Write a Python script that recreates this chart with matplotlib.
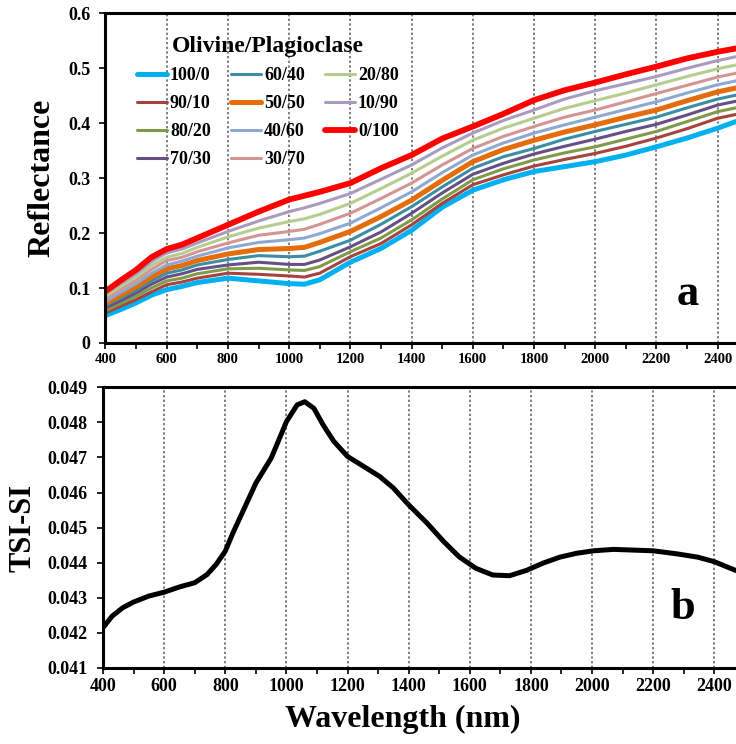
import matplotlib
matplotlib.use("Agg")
import matplotlib.pyplot as plt
from matplotlib.ticker import MultipleLocator, FuncFormatter

plt.rcParams['font.family'] = ['Liberation Serif', 'DejaVu Serif']
plt.rcParams['font.weight'] = 'bold'

# --- panel a: mixture spectra (olivine/plagioclase) ---
wl = [400, 450, 500, 550, 600, 650, 700, 800, 900, 1000, 1050, 1100, 1200, 1300,
      1400, 1500, 1600, 1700, 1800, 1900, 2000, 2100, 2200, 2300, 2400, 2460]

mix_labels = ['100/0', '90/10', '80/20', '70/30', '60/40', '50/50',
              '40/60', '30/70', '20/80', '10/90', '0/100']

r_100_0 = [0.050, 0.061, 0.073, 0.087, 0.097, 0.103, 0.110, 0.118, 0.113, 0.108, 0.107, 0.115, 0.147,
           0.172, 0.205, 0.247, 0.278, 0.297, 0.312, 0.321, 0.330, 0.342, 0.357, 0.373, 0.391, 0.403]
r_90_10 = [0.055, 0.067, 0.079, 0.093, 0.106, 0.111, 0.118, 0.127, 0.125, 0.122, 0.120, 0.127, 0.157,
           0.181, 0.215, 0.254, 0.288, 0.306, 0.322, 0.334, 0.345, 0.358, 0.373, 0.390, 0.409, 0.416]
r_80_20 = [0.059, 0.072, 0.085, 0.100, 0.113, 0.118, 0.126, 0.135, 0.136, 0.133, 0.132, 0.139, 0.166,
           0.191, 0.224, 0.262, 0.297, 0.317, 0.333, 0.346, 0.357, 0.371, 0.385, 0.403, 0.421, 0.428]
r_70_30 = [0.064, 0.077, 0.091, 0.107, 0.120, 0.126, 0.134, 0.142, 0.147, 0.143, 0.143, 0.151, 0.175,
           0.202, 0.236, 0.273, 0.307, 0.327, 0.344, 0.358, 0.371, 0.385, 0.398, 0.415, 0.433, 0.440]
r_60_40 = [0.068, 0.082, 0.096, 0.113, 0.127, 0.133, 0.142, 0.152, 0.159, 0.157, 0.158, 0.167, 0.187,
           0.216, 0.248, 0.284, 0.318, 0.339, 0.354, 0.371, 0.385, 0.398, 0.411, 0.428, 0.444, 0.451]
r_50_50 = [0.072, 0.087, 0.102, 0.120, 0.135, 0.141, 0.150, 0.162, 0.170, 0.172, 0.174, 0.183, 0.203,
           0.230, 0.260, 0.296, 0.330, 0.352, 0.369, 0.384, 0.397, 0.411, 0.424, 0.441, 0.457, 0.464]
r_40_60 = [0.076, 0.092, 0.108, 0.127, 0.142, 0.149, 0.158, 0.173, 0.183, 0.188, 0.191, 0.199, 0.218,
           0.246, 0.275, 0.310, 0.342, 0.364, 0.382, 0.397, 0.411, 0.425, 0.439, 0.455, 0.470, 0.477]
r_30_70 = [0.081, 0.098, 0.114, 0.134, 0.150, 0.156, 0.166, 0.182, 0.196, 0.203, 0.207, 0.216, 0.236,
           0.263, 0.291, 0.324, 0.354, 0.376, 0.394, 0.411, 0.424, 0.439, 0.454, 0.469, 0.484, 0.491]
r_20_80 = [0.085, 0.103, 0.120, 0.141, 0.156, 0.163, 0.174, 0.193, 0.209, 0.221, 0.226, 0.234, 0.254,
           0.281, 0.309, 0.340, 0.369, 0.391, 0.409, 0.427, 0.441, 0.455, 0.470, 0.485, 0.499, 0.506]
r_10_90 = [0.090, 0.108, 0.126, 0.148, 0.164, 0.171, 0.182, 0.203, 0.222, 0.239, 0.246, 0.254, 0.272,
           0.298, 0.324, 0.355, 0.382, 0.405, 0.424, 0.444, 0.459, 0.472, 0.485, 0.500, 0.514, 0.521]
r_0_100 = [0.094, 0.114, 0.133, 0.156, 0.171, 0.179, 0.191, 0.215, 0.239, 0.261, 0.268, 0.275, 0.291,
           0.318, 0.342, 0.372, 0.394, 0.417, 0.442, 0.460, 0.474, 0.489, 0.503, 0.518, 0.530, 0.536]

mix_colors = ['#00B0F0', '#A5433F', '#7F9A48', '#664F84', '#3A8EA4', '#E46C0A',
              '#8EA9D1', '#D29592', '#B5CD8E', '#A99BBD', '#FF0000']
mix_widths = [3.6, 2.2, 2.2, 2.2, 2.2, 3.6, 2.2, 2.2, 2.2, 2.2, 4.2]

# --- panel b: TSI-SI ---
wl_b = [400, 430, 465, 500, 550, 600, 650, 700, 740, 770, 800, 825, 860, 900, 950, 980, 1000,
        1035, 1060, 1090, 1120, 1155, 1200, 1250, 1305, 1350, 1400, 1460, 1515, 1565, 1620,
        1675, 1730, 1785, 1840, 1895, 1950, 2005, 2070, 2135, 2200, 2280, 2345, 2400, 2470]
tsi = [0.04215, 0.04248, 0.04272, 0.04288, 0.04305, 0.04316, 0.04331, 0.04343, 0.04366,
       0.04395, 0.04433, 0.04485, 0.04551, 0.04627, 0.04698, 0.04760, 0.04802, 0.04850,
       0.04859, 0.04840, 0.04793, 0.04746, 0.04703, 0.04676, 0.04646, 0.04613, 0.04565,
       0.04513, 0.04460, 0.04417, 0.04384, 0.04365, 0.04363, 0.04378, 0.04399, 0.04416,
       0.04427, 0.04434, 0.04438, 0.04436, 0.04434, 0.04425, 0.04416, 0.04403, 0.04378]


def style_axis(ax, xmax):
    ax.set_xlim(400, xmax)
    ax.xaxis.set_major_locator(MultipleLocator(200))
    ax.xaxis.set_minor_locator(MultipleLocator(100))
    ax.spines['right'].set_visible(False)
    for s in ['left', 'bottom', 'top']:
        ax.spines[s].set_linewidth(2.2)
    ax.tick_params(axis='both', which='major', direction='out', length=4, width=1.2)
    ax.tick_params(axis='x', which='minor', direction='out', length=4, width=1.2)
    ax.tick_params(axis='y', pad=7)
    for g in range(600, 2500, 200):
        ax.axvline(g, color='#7f7f7f', lw=1.4, ls=(0, (1.2, 1.2)), zorder=0)


fig = plt.figure(figsize=(7.36, 7.44), dpi=100)

ax1 = fig.add_axes([0.1433, 0.539, 0.8567, 0.4431])
series = [r_100_0, r_90_10, r_80_20, r_70_30, r_60_40, r_50_50,
          r_40_60, r_30_70, r_20_80, r_10_90, r_0_100]
for lab, vals, c, w in zip(mix_labels, series, mix_colors, mix_widths):
    ax1.plot(wl, vals, color=c, lw=w, label=lab, solid_capstyle='round')
style_axis(ax1, 2460)
ax1.set_ylim(0, 0.6)
ax1.yaxis.set_major_locator(MultipleLocator(0.1))
ax1.yaxis.set_major_formatter(FuncFormatter(lambda v, p: '0' if abs(v) < 1e-9 else f'{v:.1f}'))
ax1.tick_params(axis='x', labelsize=10.5)
ax1.tick_params(axis='y', labelsize=13)
ax1.set_ylabel('Reflectance', fontsize=23, fontweight='bold')
ax1.yaxis.set_label_coords(-0.077, 0.5)
ax1.text(0.924, 0.148, 'a', transform=ax1.transAxes, fontsize=32, fontweight='bold',
         ha='center', va='center')
leg = ax1.legend(loc='upper left', bbox_to_anchor=(0.035, 0.96), ncol=3, frameon=False,
                 title='Olivine/Plagioclase', fontsize=13, handlelength=1.7,
                 handletextpad=0.15, columnspacing=1.1, labelspacing=0.6, borderpad=0)
leg.get_title().set_fontsize(17)
leg.get_title().set_fontweight('bold')

ax2 = fig.add_axes([0.140, 0.1022, 0.860, 0.3772])
ax2.plot(wl_b, tsi, color='black', lw=3.6, solid_capstyle='round')
style_axis(ax2, 2471)
ax2.set_ylim(0.041, 0.049)
ax2.yaxis.set_major_locator(MultipleLocator(0.001))
ax2.yaxis.set_major_formatter(FuncFormatter(lambda v, p: f'{v:.3f}'))
ax2.tick_params(axis='both', labelsize=13)
ax2.set_ylabel('TSI-SI', fontsize=22, fontweight='bold')
ax2.yaxis.set_label_coords(-0.104, 0.5)
ax2.set_xlabel('Wavelength (nm)', fontsize=23, fontweight='bold')
ax2.xaxis.set_label_coords(0.474, -0.13)
ax2.text(0.916, 0.213, 'b', transform=ax2.transAxes, fontsize=32, fontweight='bold',
         ha='center', va='center')

plt.savefig('out.png', dpi=100)
